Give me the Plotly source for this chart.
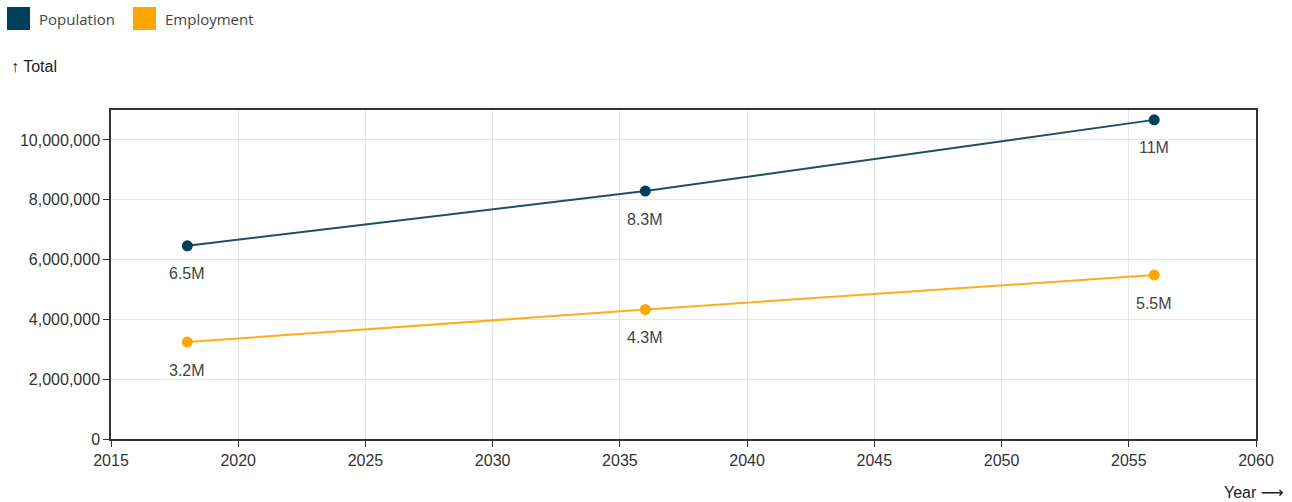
import plotly.graph_objects as go

years = [2018, 2036, 2056]
population = [6460000, 8290000, 10670000]
employment = [3240000, 4330000, 5480000]
series_names = ["Population", "Employment"]
series_colors = ["#003f5c", "#ffa600"]
line_colors = ["#1d4f68", "#ffad1a"]

def fmt(v):
    m = v / 1e6
    s = f"{m:.2g}"
    return s + "M"

fig = go.Figure()
for name, vals, col, lcol in zip(series_names, [population, employment], series_colors, line_colors):
    fig.add_trace(go.Scatter(
        x=years, y=vals, name=name, mode="lines",
        line=dict(color=lcol, width=2), showlegend=False,
    ))
    fig.add_trace(go.Scatter(
        x=years, y=vals, name=name, mode="markers",
        marker=dict(color=col, size=11), showlegend=False,
    ))
    for xv, yv in zip(years, vals):
        fig.add_annotation(x=xv, y=yv, text=fmt(yv), showarrow=False,
                           yshift=-28, xanchor="center", yanchor="middle",
                           font=dict(family="Liberation Sans, Arial", size=16, color="#444"))

axis_common = dict(
    showline=True, linecolor="#333", linewidth=1.5, mirror=True,
    ticks="outside", ticklen=6, tickcolor="#333",
    showgrid=True, gridcolor="#e6e6e6", gridwidth=1,
    zeroline=False,
    tickfont=dict(family="Liberation Sans, Arial", size=16, color="#333"),
)
fig.update_xaxes(range=[2015, 2060], dtick=5, **axis_common)
fig.update_yaxes(range=[0, 11000000], dtick=2000000, tickformat=",d", **axis_common)

legend_items = [(7, series_names[0], series_colors[0]), (133, series_names[1], series_colors[1])]
for px, name, col in legend_items:
    fig.add_shape(type="rect", xref="paper", yref="paper",
                  x0=(px - 111) / 1145, x1=(px + 23 - 111) / 1145,
                  y0=(439 - 30) / 329, y1=(439 - 7) / 329,
                  fillcolor=col, line=dict(width=0))
    fig.add_annotation(xref="paper", yref="paper",
                       x=(px + 30 - 111) / 1145, y=(439 - 19) / 329,
                       xanchor="left", yanchor="middle", showarrow=False,
                       text=name, font=dict(family="Open Sans, Noto Sans", size=15, color="#444"))

fig.add_annotation(xref="paper", yref="paper", x=(9 - 111) / 1145, y=(439 - 67) / 329,
                   xanchor="left", yanchor="middle", showarrow=False,
                   text="↑ Total", font=dict(family="Liberation Sans, Arial", size=16, color="#222"))
fig.add_annotation(xref="paper", yref="paper", x=(1286 - 111) / 1145, y=(439 - 492) / 329,
                   xanchor="right", yanchor="middle", showarrow=False,
                   text="Year <span style='font-family:DejaVu Sans'>⟶</span>",
                   font=dict(family="Liberation Sans, Arial", size=16, color="#222"))

fig.update_layout(
    width=1292, height=502,
    margin=dict(l=111, r=36, t=110, b=63),
    plot_bgcolor="white", paper_bgcolor="white",
    showlegend=False,
)
fig.write_html("out.html")
